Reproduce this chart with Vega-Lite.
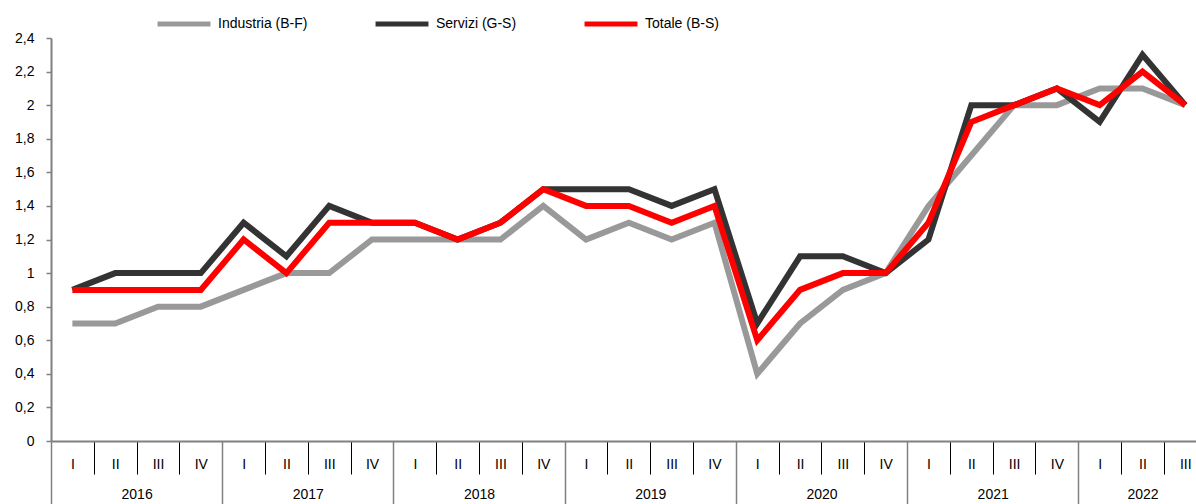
{
  "$schema": "https://vega.github.io/schema/vega-lite/v6.json",
  "width": 1145,
  "height": 403,
  "autosize": {"type": "none"},
  "padding": {"left": 51, "top": 38, "right": 0, "bottom": 63},
  "background": "white",
  "config": {
    "view": {"stroke": null},
    "font": "Liberation Sans",
    "axis": {"labelFont": "Liberation Sans", "labelFontSize": 14, "labelColor": "#000000", "grid": false},
    "legend": {"labelFont": "Liberation Sans", "labelFontSize": 14, "labelColor": "#000000"}
  },
  "data": {
    "values": [
      {"t": 0, "period": "2016 I", "serie": "Industria (B-F)", "v": 0.7},
      {"t": 1, "period": "2016 II", "serie": "Industria (B-F)", "v": 0.7},
      {"t": 2, "period": "2016 III", "serie": "Industria (B-F)", "v": 0.8},
      {"t": 3, "period": "2016 IV", "serie": "Industria (B-F)", "v": 0.8},
      {"t": 4, "period": "2017 I", "serie": "Industria (B-F)", "v": 0.9},
      {"t": 5, "period": "2017 II", "serie": "Industria (B-F)", "v": 1.0},
      {"t": 6, "period": "2017 III", "serie": "Industria (B-F)", "v": 1.0},
      {"t": 7, "period": "2017 IV", "serie": "Industria (B-F)", "v": 1.2},
      {"t": 8, "period": "2018 I", "serie": "Industria (B-F)", "v": 1.2},
      {"t": 9, "period": "2018 II", "serie": "Industria (B-F)", "v": 1.2},
      {"t": 10, "period": "2018 III", "serie": "Industria (B-F)", "v": 1.2},
      {"t": 11, "period": "2018 IV", "serie": "Industria (B-F)", "v": 1.4},
      {"t": 12, "period": "2019 I", "serie": "Industria (B-F)", "v": 1.2},
      {"t": 13, "period": "2019 II", "serie": "Industria (B-F)", "v": 1.3},
      {"t": 14, "period": "2019 III", "serie": "Industria (B-F)", "v": 1.2},
      {"t": 15, "period": "2019 IV", "serie": "Industria (B-F)", "v": 1.3},
      {"t": 16, "period": "2020 I", "serie": "Industria (B-F)", "v": 0.4},
      {"t": 17, "period": "2020 II", "serie": "Industria (B-F)", "v": 0.7},
      {"t": 18, "period": "2020 III", "serie": "Industria (B-F)", "v": 0.9},
      {"t": 19, "period": "2020 IV", "serie": "Industria (B-F)", "v": 1.0},
      {"t": 20, "period": "2021 I", "serie": "Industria (B-F)", "v": 1.4},
      {"t": 21, "period": "2021 II", "serie": "Industria (B-F)", "v": 1.7},
      {"t": 22, "period": "2021 III", "serie": "Industria (B-F)", "v": 2.0},
      {"t": 23, "period": "2021 IV", "serie": "Industria (B-F)", "v": 2.0},
      {"t": 24, "period": "2022 I", "serie": "Industria (B-F)", "v": 2.1},
      {"t": 25, "period": "2022 II", "serie": "Industria (B-F)", "v": 2.1},
      {"t": 26, "period": "2022 III", "serie": "Industria (B-F)", "v": 2.0},
      {"t": 0, "period": "2016 I", "serie": "Servizi (G-S)", "v": 0.9},
      {"t": 1, "period": "2016 II", "serie": "Servizi (G-S)", "v": 1.0},
      {"t": 2, "period": "2016 III", "serie": "Servizi (G-S)", "v": 1.0},
      {"t": 3, "period": "2016 IV", "serie": "Servizi (G-S)", "v": 1.0},
      {"t": 4, "period": "2017 I", "serie": "Servizi (G-S)", "v": 1.3},
      {"t": 5, "period": "2017 II", "serie": "Servizi (G-S)", "v": 1.1},
      {"t": 6, "period": "2017 III", "serie": "Servizi (G-S)", "v": 1.4},
      {"t": 7, "period": "2017 IV", "serie": "Servizi (G-S)", "v": 1.3},
      {"t": 8, "period": "2018 I", "serie": "Servizi (G-S)", "v": 1.3},
      {"t": 9, "period": "2018 II", "serie": "Servizi (G-S)", "v": 1.2},
      {"t": 10, "period": "2018 III", "serie": "Servizi (G-S)", "v": 1.3},
      {"t": 11, "period": "2018 IV", "serie": "Servizi (G-S)", "v": 1.5},
      {"t": 12, "period": "2019 I", "serie": "Servizi (G-S)", "v": 1.5},
      {"t": 13, "period": "2019 II", "serie": "Servizi (G-S)", "v": 1.5},
      {"t": 14, "period": "2019 III", "serie": "Servizi (G-S)", "v": 1.4},
      {"t": 15, "period": "2019 IV", "serie": "Servizi (G-S)", "v": 1.5},
      {"t": 16, "period": "2020 I", "serie": "Servizi (G-S)", "v": 0.7},
      {"t": 17, "period": "2020 II", "serie": "Servizi (G-S)", "v": 1.1},
      {"t": 18, "period": "2020 III", "serie": "Servizi (G-S)", "v": 1.1},
      {"t": 19, "period": "2020 IV", "serie": "Servizi (G-S)", "v": 1.0},
      {"t": 20, "period": "2021 I", "serie": "Servizi (G-S)", "v": 1.2},
      {"t": 21, "period": "2021 II", "serie": "Servizi (G-S)", "v": 2.0},
      {"t": 22, "period": "2021 III", "serie": "Servizi (G-S)", "v": 2.0},
      {"t": 23, "period": "2021 IV", "serie": "Servizi (G-S)", "v": 2.1},
      {"t": 24, "period": "2022 I", "serie": "Servizi (G-S)", "v": 1.9},
      {"t": 25, "period": "2022 II", "serie": "Servizi (G-S)", "v": 2.3},
      {"t": 26, "period": "2022 III", "serie": "Servizi (G-S)", "v": 2.0},
      {"t": 0, "period": "2016 I", "serie": "Totale (B-S)", "v": 0.9},
      {"t": 1, "period": "2016 II", "serie": "Totale (B-S)", "v": 0.9},
      {"t": 2, "period": "2016 III", "serie": "Totale (B-S)", "v": 0.9},
      {"t": 3, "period": "2016 IV", "serie": "Totale (B-S)", "v": 0.9},
      {"t": 4, "period": "2017 I", "serie": "Totale (B-S)", "v": 1.2},
      {"t": 5, "period": "2017 II", "serie": "Totale (B-S)", "v": 1.0},
      {"t": 6, "period": "2017 III", "serie": "Totale (B-S)", "v": 1.3},
      {"t": 7, "period": "2017 IV", "serie": "Totale (B-S)", "v": 1.3},
      {"t": 8, "period": "2018 I", "serie": "Totale (B-S)", "v": 1.3},
      {"t": 9, "period": "2018 II", "serie": "Totale (B-S)", "v": 1.2},
      {"t": 10, "period": "2018 III", "serie": "Totale (B-S)", "v": 1.3},
      {"t": 11, "period": "2018 IV", "serie": "Totale (B-S)", "v": 1.5},
      {"t": 12, "period": "2019 I", "serie": "Totale (B-S)", "v": 1.4},
      {"t": 13, "period": "2019 II", "serie": "Totale (B-S)", "v": 1.4},
      {"t": 14, "period": "2019 III", "serie": "Totale (B-S)", "v": 1.3},
      {"t": 15, "period": "2019 IV", "serie": "Totale (B-S)", "v": 1.4},
      {"t": 16, "period": "2020 I", "serie": "Totale (B-S)", "v": 0.6},
      {"t": 17, "period": "2020 II", "serie": "Totale (B-S)", "v": 0.9},
      {"t": 18, "period": "2020 III", "serie": "Totale (B-S)", "v": 1.0},
      {"t": 19, "period": "2020 IV", "serie": "Totale (B-S)", "v": 1.0},
      {"t": 20, "period": "2021 I", "serie": "Totale (B-S)", "v": 1.3},
      {"t": 21, "period": "2021 II", "serie": "Totale (B-S)", "v": 1.9},
      {"t": 22, "period": "2021 III", "serie": "Totale (B-S)", "v": 2.0},
      {"t": 23, "period": "2021 IV", "serie": "Totale (B-S)", "v": 2.1},
      {"t": 24, "period": "2022 I", "serie": "Totale (B-S)", "v": 2.0},
      {"t": 25, "period": "2022 II", "serie": "Totale (B-S)", "v": 2.2},
      {"t": 26, "period": "2022 III", "serie": "Totale (B-S)", "v": 2.0}
    ]
  },
  "resolve": {"axis": {"x": "independent", "y": "independent"}},
  "layer": [
    {
      "mark": {"type": "point", "opacity": 0},
      "encoding": {
        "x": {
          "field": "t", "type": "quantitative",
          "scale": {"domain": [-0.5, 26.25], "nice": false, "zero": false},
          "axis": {
            "orient": "bottom", "title": null,
            "values": [-0.5, 0.5, 1.5, 2.5, 3.5, 4.5, 5.5, 6.5, 7.5, 8.5, 9.5, 10.5, 11.5, 12.5, 13.5, 14.5, 15.5, 16.5, 17.5, 18.5, 19.5, 20.5, 21.5, 22.5, 23.5, 24.5, 25.5],
            "labels": false, "domain": false, "ticks": true,
            "tickColor": {"condition": {"test": "(datum.value + 0.5) % 4 === 0", "value": "#808080"}, "value": "#000000"},
            "tickWidth": {"condition": {"test": "(datum.value + 0.5) % 4 === 0", "value": 1.5}, "value": 1},
            "tickSize": {"condition": {"test": "(datum.value + 0.5) % 4 === 0", "value": 63}, "value": 33}
          }
        }
      }
    },
    {
      "mark": {"type": "point", "opacity": 0},
      "encoding": {
        "x": {
          "field": "t", "type": "quantitative",
          "axis": {
            "orient": "bottom", "title": null,
            "values": [1.5, 5.5, 9.5, 13.5, 17.5, 21.5, 25],
            "labelExpr": "'' + (2016 + floor(datum.value / 4))",
            "ticks": false, "tickSize": 0, "domain": false,
            "labelBaseline": "middle", "labelPadding": 53, "labelFlush": false, "labelOverlap": false
          }
        }
      }
    },
    {
      "mark": {"type": "line", "strokeWidth": 6, "strokeJoin": "miter"},
      "encoding": {
        "x": {
          "field": "t", "type": "quantitative",
          "axis": {
            "orient": "bottom", "title": null,
            "values": [0, 1, 2, 3, 4, 5, 6, 7, 8, 9, 10, 11, 12, 13, 14, 15, 16, 17, 18, 19, 20, 21, 22, 23, 24, 25, 26],
            "labelExpr": "['I','II','III','IV'][datum.value % 4]",
            "ticks": false, "tickSize": 0,
            "domain": true, "domainColor": "#808080", "domainWidth": 2,
            "labelBaseline": "middle", "labelPadding": 23, "labelFlush": false, "labelOverlap": false
          }
        },
        "y": {
          "field": "v", "type": "quantitative",
          "scale": {"domain": [0, 2.4], "nice": false},
          "axis": {
            "title": null,
            "values": [0, 0.2, 0.4, 0.6, 0.8, 1, 1.2, 1.4, 1.6, 1.8, 2, 2.2, 2.4],
            "labelExpr": "replace(format(datum.value, '.1~f'), '.', ',')",
            "domainColor": "#808080", "domainWidth": 2,
            "tickColor": "#808080", "tickSize": 5, "tickWidth": 1.5,
            "labelPadding": 12
          }
        },
        "color": {
          "field": "serie", "type": "nominal",
          "scale": {"domain": ["Industria (B-F)", "Servizi (G-S)", "Totale (B-S)"], "range": ["#999999", "#333333", "#ff0000"]},
          "legend": {
            "title": null, "orient": "none", "direction": "horizontal", "columns": 3,
            "legendX": 104, "legendY": -43,
            "symbolType": "stroke", "symbolSize": 2800, "symbolStrokeWidth": 5,
            "labelFont": "Liberation Sans", "labelFontSize": 14, "labelColor": "#000000",
            "labelOffset": 5, "columnPadding": 57, "padding": 0
          }
        }
      }
    }
  ]
}
